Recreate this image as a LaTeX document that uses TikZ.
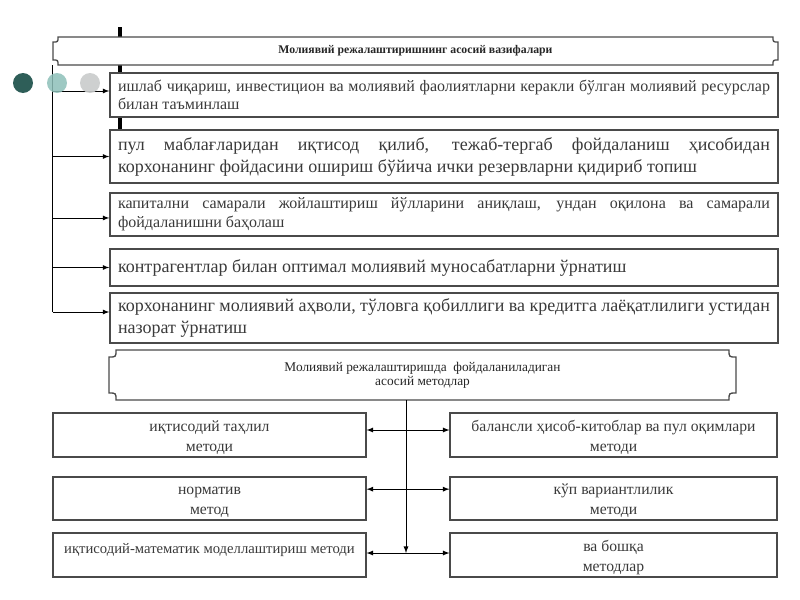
\documentclass[tikz,border=0pt]{standalone}
\usepackage{fontspec}
\setmainfont{Liberation Serif}
\usetikzlibrary{positioning}
\definecolor{dotdark}{HTML}{2E5E58}
\definecolor{dotmid}{HTML}{8DBFB8}
\definecolor{dotlight}{HTML}{C9CBCB}
\definecolor{boxgray}{HTML}{4A4A4A}
\definecolor{txtgray}{HTML}{3A3A3A}

\begin{document}
\begin{tikzpicture}[x = 0.75pt, y = -0.75pt, >=latex,
	fbox/.style = {draw = boxgray, line width = 1pt, fill = white, text = txtgray, minimum width = 501pt, text width = 489pt, align = justify, inner sep = 0pt},
	mbox/.style = {draw = boxgray, line width = 0.8pt, fill = white, text = txtgray, align = center, inner sep = 0pt, font = \fontsize{11.75}{15}\selectfont},
	link/.style = {->, line width = 0.7pt}]
	\useasboundingbox (0, 0) rectangle (800, 600);
	% thick bar behind the top boxes
	\draw [line width = 2.4pt] (120, 27) -- (120, 135);
	% first heading, plaque outline
	\draw [boxgray, line width = 1pt, fill = white] (58, 37) -- (773, 37) .. controls (773, 42) .. (778, 42) -- (778, 60) .. controls (773, 60) .. (773, 65) -- (58, 65) .. controls (58, 60) .. (53, 60) -- (53, 42) .. controls (58, 42) .. (58, 37) -- cycle;
	\node (h1) [minimum width = 543.75pt, minimum height = 21pt, inner sep = 0pt, text = black!85, font = \fontsize{8.8}{10}\selectfont\bfseries] at (415.5, 51) {Молиявий режалаштиришнинг асосий вазифалари};
	% functions
	\node (b1) [fbox, minimum height = 33pt, font = \fontsize{12}{13.5}\selectfont] at (444, 95) {ишлаб чиқариш, инвестицион ва молиявий фаолиятларни керакли бўлган молиявий ресурслар\linebreak билан таъминлаш};
	\node (b2) [fbox, minimum height = 39.75pt, font = \fontsize{13.5}{16.5}\selectfont] at (444, 156.5) {пул маблағларидан иқтисод қилиб, тежаб-тергаб фойдаланиш ҳисобидан\linebreak корхонанинг фойдасини ошириш бўйича ички резервларни қидириб топиш};
	\node (b3) [fbox, minimum height = 32.25pt, font = \fontsize{12}{14.25}\selectfont] at (444, 214.5) {капитални самарали жойлаштириш йўлларини аниқлаш, ундан оқилона ва самарали\linebreak фойдаланишни баҳолаш};
	\node (b4) [fbox, minimum height = 27.75pt, font = \fontsize{13.5}{16.5}\selectfont] at (444, 267.5) {контрагентлар билан оптимал молиявий муносабатларни ўрнатиш};
	\node (b5) [fbox, minimum height = 37.5pt, font = \fontsize{13.5}{16.5}\selectfont] at (444, 318) {корхонанинг молиявий аҳволи, тўловга қобиллиги ва кредитга лаёқатлилиги устидан\linebreak назорат ўрнатиш};
	\coordinate (in1) at ([yshift = 3pt] b1.west);
	\coordinate (in3) at ([yshift = -2.6pt] b3.west);
	\coordinate (in5) at ([yshift = 4.5pt] b5.west);
	\draw [line width = 0.7pt] (h1.south west) -- (h1.west |- in5);
	\draw [link] (h1.west |- in1) -- (in1);
	\draw [link] (h1.west |- b2.west) -- (b2.west);
	\draw [link] (h1.west |- in3) -- (in3);
	\draw [link] (h1.west |- b4.west) -- (b4.west);
	\draw [link] (h1.west |- in5) -- (in5);
	% dots
	\fill [dotdark] (23, 83) circle (7.5pt);
	\fill [dotmid, opacity = 0.85] (57, 83) circle (7.5pt);
	\fill [dotlight, opacity = 0.9] (90, 83) circle (7.5pt);
	% second heading, plaque outline
	\draw [boxgray, line width = 1pt, fill = white] (116, 350) -- (729, 350) .. controls (729, 357) .. (736, 357) -- (736, 393) .. controls (729, 393) .. (729, 400) -- (116, 400) .. controls (116, 393) .. (109, 393) -- (109, 357) .. controls (116, 357) .. (116, 350) -- cycle;
	\node (h2) [minimum width = 470.25pt, minimum height = 37.5pt, inner sep = 0pt, align = center, text = black!85, font = \fontsize{10}{10.5}\selectfont] at (422.5, 375) {Молиявий режалаштиришда\ \ фойдаланиладиган\\асосий методлар};
	% methods
	\node (lm1) [mbox, minimum width = 234.75pt, minimum height = 33pt] at (209.5, 435) {\rule{0pt}{12pt}иқтисодий таҳлил\\методи};
	\node (lm2) [mbox, minimum width = 234.75pt, minimum height = 32.25pt] at (209.5, 498.5) {\rule{0pt}{12pt}норматив\\метод};
	\node (lm3) [mbox, minimum width = 234.75pt, minimum height = 33pt, font = \fontsize{11}{15}\selectfont] at (209.5, 555) {\rule{0pt}{12pt}иқтисодий-математик моделлаштириш методи\\\mbox{}};
	\node (rm1) [mbox, minimum width = 245.25pt, minimum height = 33pt] at (613.5, 435) {\rule{0pt}{12pt}балансли ҳисоб-китоблар ва пул оқимлари\\методи};
	\node (rm2) [mbox, minimum width = 245.25pt, minimum height = 32.25pt] at (613.5, 498.5) {\rule{0pt}{12pt}кўп вариантлилик\\методи};
	\node (rm3) [mbox, minimum width = 245.25pt, minimum height = 33pt] at (613.5, 555) {\rule{0pt}{12pt}ва бошқа\\методлар};
	\coordinate (split) at (406, 553);
	\draw [link] (h2.south -| split) -- (split);
	\draw [<->, line width = 0.7pt] ([yshift = 3.75pt] lm1.east) -- ([yshift = 3.75pt] rm1.west);
	\draw [<->, line width = 0.7pt] ([yshift = 7pt] lm2.east) -- ([yshift = 7pt] rm2.west);
	\draw [<->, line width = 0.7pt] ([yshift = 1.5pt] lm3.east) -- ([yshift = 1.5pt] rm3.west);
\end{tikzpicture}
\end{document}
